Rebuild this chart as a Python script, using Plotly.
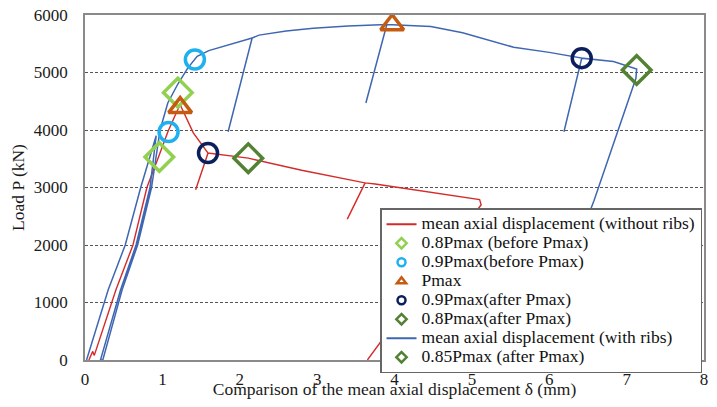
import plotly.graph_objects as go

# ---- data ----
red_x = [0.05, 0.10, 0.12, 0.40, 0.62, 0.80, 0.95, 1.07, 1.18, 1.23,
         1.40, 1.59, 1.43, 1.59, 2.11, 2.80, 3.62, 3.39, 3.62, 3.75, 4.30, 5.10, 5.12, 3.65]
red_y = [0, 150, 80, 1220, 2000, 3000, 3530, 3965, 4300, 4440,
         3950, 3600, 2960, 3600, 3510, 3300, 3080, 2450, 3080, 3060, 2950, 2790, 2700, 0]

blue_x = [0.02, 0.30, 0.52, 0.72, 0.92, 0.84, 0.66, 0.46, 0.20, 0.23, 0.48, 0.68, 0.86,
          0.97, 1.07, 1.20, 1.33, 1.45, 1.60, 1.80, 2.00, 2.16, 1.85, 2.16, 2.25, 2.60,
          2.95, 3.40, 3.82, 3.90, 3.63, 3.90, 3.97, 4.47, 4.88, 5.54, 6.00, 6.42, 6.19,
          6.42, 6.83, 7.13, 7.12, 6.58, 5.80]
blue_y = [0, 1220, 2000, 3000, 3900, 3000, 2000, 1220, 0, 0, 1220, 2000, 3000,
          4000, 4470, 4800, 5080, 5280, 5380, 5460, 5530, 5600, 3970, 5600, 5650, 5720,
          5770, 5810, 5830, 5830, 4470, 5830, 5830, 5800, 5690, 5440, 5350, 5250, 3970,
          5250, 5190, 5060, 4900, 2780, 0]

p08_before_x = [0.96, 1.20]
p08_before_y = [3530, 4650]
p09_before_x = [1.08, 1.42]
p09_before_y = [3965, 5225]
pmax_x = [1.23, 3.97]
pmax_y = [4390, 5830]
p09_after_x = [1.59, 6.42]
p09_after_y = [3600, 5250]
p08_after_x = [2.11]
p08_after_y = [3510]
p085_after_x = [7.13]
p085_after_y = [5045]

x_ticks = [0, 1, 2, 3, 4, 5, 6, 7, 8]
y_ticks = [0, 1000, 2000, 3000, 4000, 5000, 6000]

# ---- styles ----
RED = "#D42A2A"
BLUE = "#3F67B1"
LGREEN = "#92D050"
LBLUE = "#1FB0F0"
ORANGE = "#C55A11"
NAVY = "#0B1F5C"
DGREEN = "#548235"
FONT = "Liberation Serif"


def lg(t):
    return '<span style="font-size:17.5px">' + t + '</span>'


fig = go.Figure()

# lines (drawn first)
fig.add_trace(go.Scatter(x=red_x, y=red_y, mode="lines", line=dict(color=RED, width=1.4),
                         showlegend=False, hoverinfo="skip"))
fig.add_trace(go.Scatter(x=blue_x, y=blue_y, mode="lines", line=dict(color=BLUE, width=1.5),
                         showlegend=False, hoverinfo="skip"))

# markers on the curves
markers = [
    (p08_before_x, p08_before_y, "diamond-open", LGREEN, 22),
    (p09_before_x, p09_before_y, "circle-open", LBLUE, 19),
    (pmax_x, pmax_y, "triangle-up-open", ORANGE, 20),
    (p09_after_x, p09_after_y, "circle-open", NAVY, 19),
    (p08_after_x, p08_after_y, "diamond-open", DGREEN, 22),
    (p085_after_x, p085_after_y, "diamond-open", DGREEN, 22),
]
for mx, my, sym, col, sz in markers:
    fig.add_trace(go.Scatter(x=mx, y=my, mode="markers",
                             marker=dict(symbol=sym, size=sz, color=col, line=dict(width=3.5, color=col)),
                             showlegend=False, hoverinfo="skip"))

# legend entries
legend_items = [
    ("mean axial displacement (without ribs)", "line", RED, None),
    ("0.8Pmax (before Pmax)", "marker", LGREEN, "diamond-open"),
    ("0.9Pmax(before Pmax)", "marker", LBLUE, "circle-open"),
    ("Pmax", "marker", ORANGE, "triangle-up-open"),
    ("0.9Pmax(after Pmax)", "marker", NAVY, "circle-open"),
    ("0.8Pmax(after Pmax)", "marker", DGREEN, "diamond-open"),
    ("mean axial displacement (with ribs)", "line", BLUE, None),
    ("0.85Pmax (after Pmax)", "marker", DGREEN, "diamond-open"),
]
for i, (name, kind, col, sym) in enumerate(legend_items):
    if kind == "line":
        fig.add_trace(go.Scatter(x=[None], y=[None], mode="lines", name=lg(name),
                                 line=dict(color=col, width=2), legendrank=i + 1))
    else:
        fig.add_trace(go.Scatter(x=[None], y=[None], mode="markers", name=lg(name),
                                 marker=dict(symbol=sym, size=8, color=col, line=dict(width=2.5, color=col)),
                                 legendrank=i + 1))

# page body has an 8px margin: figure is 701x391 so the page is 717x407
fig.update_layout(
    width=701, height=391,
    margin=dict(l=77, r=5, t=7, b=39),
    paper_bgcolor="white", plot_bgcolor="white",
    font=dict(family=FONT, size=17, color="#1a1a1a"),
    showlegend=True,
    legend=dict(
        x=0.9968, xanchor="right", y=0.44, yanchor="top",
        bgcolor="white", bordercolor="#666666", borderwidth=1.5,
        font=dict(family=FONT, size=12, color="#111111"),
        tracegroupgap=0, itemclick=False,
    ),
    xaxis=dict(
        range=[0, 8], tickvals=x_ticks, ticktext=[str(v) for v in x_ticks],
        showgrid=False, zeroline=False, showline=True, mirror=True, automargin=False,
        linecolor="#8a8a8a", linewidth=1.5, ticks="", ticklabelstandoff=3,
        ticklabeloverflow="allow",
        tickfont=dict(family=FONT, size=17, color="#1a1a1a"),
        title=dict(text="Comparison of the mean axial displacement δ (mm)",
                   font=dict(family=FONT, size=17.5, color="#1a1a1a"), standoff=0),
    ),
    yaxis=dict(
        range=[0, 6000], tickvals=y_ticks, ticktext=[str(v) for v in y_ticks],
        showgrid=True, gridcolor="#555555", griddash="3px,2px", gridwidth=1.2,
        zeroline=False, showline=True, mirror=True, automargin=False,
        linecolor="#8a8a8a", linewidth=1.5, ticks="", ticklabelstandoff=12,
        ticklabeloverflow="allow",
        tickfont=dict(family=FONT, size=17, color="#1a1a1a"),
        title=dict(text="Load P (kN)", font=dict(family=FONT, size=17.5, color="#1a1a1a"), standoff=5),
    ),
)

fig.write_html("out.html")
